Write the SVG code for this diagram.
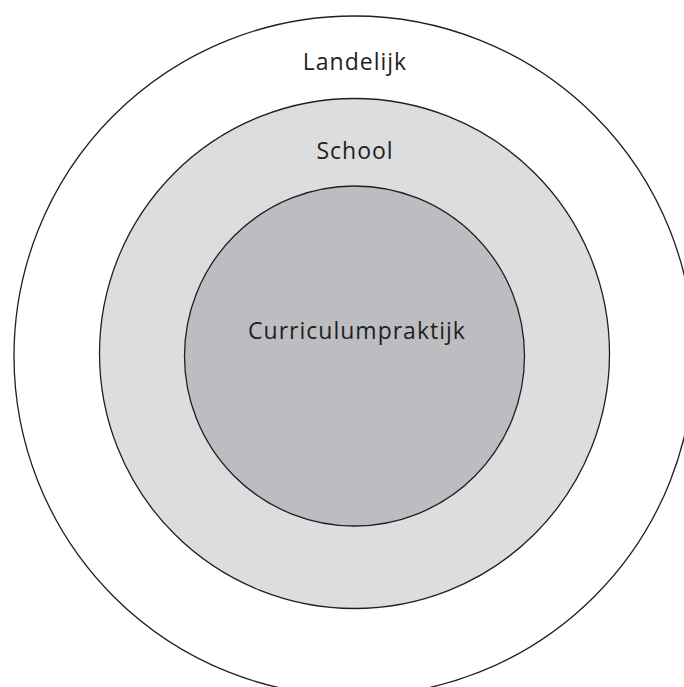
<svg xmlns="http://www.w3.org/2000/svg" width="684" height="687" viewBox="0 0 684 687">
<style>
.ring{stroke:#231f20;stroke-width:1.3}
.lbl{font-family:"Open Sans","Liberation Sans",sans-serif;font-size:23px;letter-spacing:1px;fill:#231f20;text-anchor:middle}
</style>
<rect width="684" height="687" fill="#ffffff"/>
<g id="landelijk">
<circle class="ring" cx="354" cy="356" r="340" fill="#ffffff"/>
<text class="lbl" x="355" y="70">Landelijk</text>
</g>
<g id="school">
<circle class="ring" cx="354.5" cy="353.5" r="255" fill="#dcdddf"/>
<text class="lbl" x="355" y="159">School</text>
</g>
<g id="curriculumpraktijk">
<circle class="ring" cx="354.5" cy="356" r="170" fill="#bcbdc0"/>
<text class="lbl" x="357" y="339">Curriculumpraktijk</text>
</g>
<g id="connectors"/>
</svg>
